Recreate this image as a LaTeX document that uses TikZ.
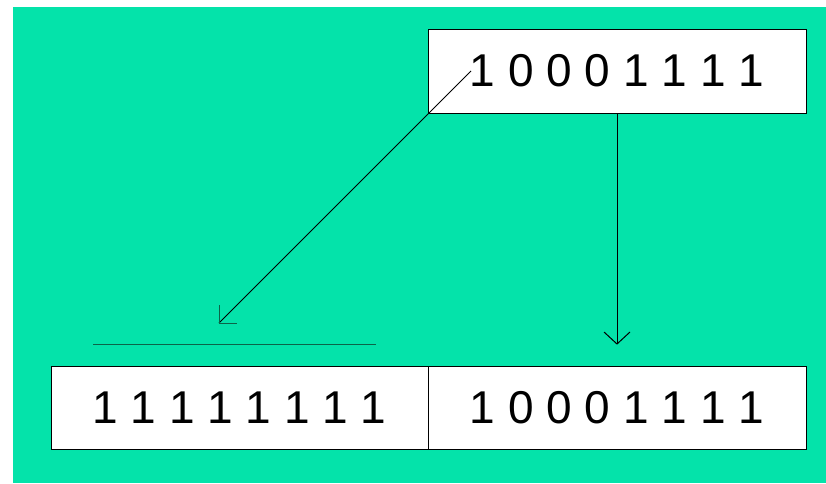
\documentclass[tikz,border=0pt]{standalone}
\usepackage{fontspec}
\setmainfont{Liberation Sans}
\usetikzlibrary{arrows.meta,calc}
\definecolor{bgreen}{RGB}{4,227,170}
\definecolor{dgreen}{RGB}{12,100,72}
\tikzset{
  bitbox/.style={draw=black, line width=1pt, fill=white, inner sep=0pt, font=\fontsize{46}{50}\selectfont},
  conn/.style={line width=1pt}
}
\begin{document}
\begin{tikzpicture}[x=1pt,y=-1pt]
\useasboundingbox (0,0) rectangle (826,483);
\fill[bgreen] (13,7) rectangle (826,483);
% top box
\node[bitbox, minimum width=378pt, minimum height=84pt] (top) at (617,71) {1 0 0 0 1 1 1 1};
% bottom boxes
\node[bitbox, minimum width=377pt, minimum height=83pt] (bl) at (239.5,407.5) {1 1 1 1 1 1 1 1};
\node[bitbox, minimum width=378pt, minimum height=83pt] (br) at (617,407.5) {1 0 0 0 1 1 1 1};
% coordinates
\coordinate (dstart) at (471,71);
\coordinate (dtip) at (219,323);
\coordinate (vtip) at (617,344);
\coordinate (hl) at (93,344);
\coordinate (hr) at (376,344);
% diagonal arrow
\draw[conn, draw=black] (dstart) -- (dtip);
\draw[conn, draw=dgreen] ($(dtip)+(0,-18)$) -- (dtip) -- ($(dtip)+(18,0)$);
% vertical arrow
\draw[conn] (top.south) -- (vtip);
\draw[conn] ($(vtip)+(-13,-12)$) -- (vtip) -- ($(vtip)+(13,-12)$);
% horizontal line
\draw[conn, draw=dgreen] (hl) -- (hr);
\end{tikzpicture}
\end{document}
